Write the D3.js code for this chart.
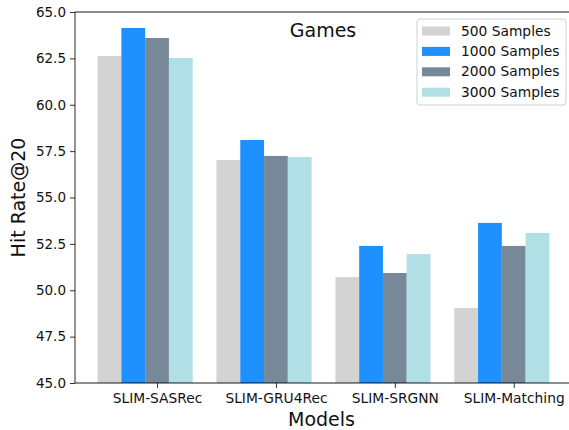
<!DOCTYPE html>
<html lang="en">

<head>
    <meta charset="UTF-8">
    <title>Games - Hit Rate@20</title>
    <script src="https://d3js.org/d3.v7.min.js"></script>
    <style>
        body {
            margin: 0;
            background: #ffffff;
        }

        svg text {
            font-family: "DejaVu Sans", sans-serif;
            fill: #111;
        }
    </style>
</head>

<body>
    <svg width="569" height="430"></svg>

    <script>
        // chart data
        const models = ["SLIM-SASRec", "SLIM-GRU4Rec", "SLIM-SRGNN", "SLIM-Matching"];
        const seriesNames = ["500 Samples", "1000 Samples", "2000 Samples", "3000 Samples"];
        const samples500 = [62.63, 57.02, 50.71, 49.04];
        const samples1000 = [64.14, 58.10, 52.39, 53.63];
        const samples2000 = [63.60, 57.24, 50.93, 52.39];
        const samples3000 = [62.52, 57.18, 51.95, 53.09];
        const yTicks = [45.0, 47.5, 50.0, 52.5, 55.0, 57.5, 60.0, 62.5, 65.0];

        const colors = ["#d3d3d3", "#1e90ff", "#778899", "#b0e0e6"];
        const allSeries = [samples500, samples1000, samples2000, samples3000];

        let svg = d3.select("svg");

        const plotL = 75, plotR = 572, plotT = 12, plotB = 383;
        const barW = 0.2;

        // group index on x, tick sits on the 3rd bar of each group
        let x = d3.scaleLinear().domain([-0.69, 3.49]).range([plotL, plotR]);
        let y = d3.scaleLinear().domain([45, 65]).range([plotB, plotT]);

        // bars
        allSeries.forEach(function (vals, i) {
            svg.append("g")
                .selectAll("rect")
                .data(vals)
                .enter()
                .append("rect")
                .attr("x", function (d, j) { return x(j + (i - 2.5) * barW); })
                .attr("width", function (d, j) { return x(j + (i - 1.5) * barW) - x(j + (i - 2.5) * barW); })
                .attr("y", function (d) { return y(d); })
                .attr("height", function (d) { return y(45) - y(d); })
                .attr("fill", colors[i]);
        });

        // y axis
        let yAxis = svg.append("g")
            .attr("transform", "translate(" + plotL + ",0)")
            .call(d3.axisLeft(y).tickValues(yTicks).tickFormat(d3.format(".1f")).tickSize(5).tickPadding(4));
        yAxis.select(".domain").remove();
        yAxis.selectAll("text").style("font-size", "13.5px").attr("fill", "#111");
        yAxis.selectAll(".tick line").attr("stroke", "#333");

        // x axis
        let xAxis = svg.append("g")
            .attr("transform", "translate(0," + plotB + ")")
            .call(d3.axisBottom(x).tickValues(d3.range(models.length))
                .tickFormat(function (d) { return models[d]; }).tickSize(5).tickPadding(5));
        xAxis.select(".domain").remove();
        xAxis.selectAll("text").style("font-size", "13.8px").attr("fill", "#111");
        xAxis.selectAll(".tick line").attr("stroke", "#333");

        // spines
        const spines = [[plotL, plotT, plotL, plotB], [plotL, plotB, plotR, plotB],
                        [plotL, plotT, plotR, plotT], [plotR, plotT, plotR, plotB]];
        svg.append("g").selectAll("line")
            .data(spines)
            .enter()
            .append("line")
            .attr("x1", function (d) { return d[0]; })
            .attr("y1", function (d) { return d[1]; })
            .attr("x2", function (d) { return d[2]; })
            .attr("y2", function (d) { return d[3]; })
            .attr("stroke", "#000")
            .attr("stroke-opacity", 0.6)
            .attr("stroke-width", 1.4);

        // title + axis labels
        svg.append("text")
            .attr("x", 323).attr("y", 37)
            .attr("text-anchor", "middle")
            .style("font-size", "19px")
            .text("Games");

        svg.append("text")
            .attr("x", (plotL + plotR) / 2 - 2).attr("y", 426)
            .attr("text-anchor", "middle")
            .style("font-size", "19px")
            .text("Models");

        svg.append("text")
            .attr("transform", "translate(25," + ((plotT + plotB) / 2) + ") rotate(-90)")
            .attr("text-anchor", "middle")
            .style("font-size", "19px")
            .text("Hit Rate@20");

        // legend
        let legend = svg.append("g").attr("transform", "translate(417,19)");
        legend.append("rect")
            .attr("width", 149).attr("height", 86)
            .attr("rx", 3)
            .attr("fill", "#fff").attr("fill-opacity", 0.8)
            .attr("stroke", "#d0d0d0");

        let rows = legend.selectAll(".row")
            .data(seriesNames)
            .enter()
            .append("g")
            .attr("class", "row")
            .attr("transform", function (d, i) { return "translate(0," + (11.5 + i * 20.4) + ")"; });
        rows.append("rect")
            .attr("x", 5).attr("y", -4).attr("width", 28).attr("height", 9)
            .attr("fill", function (d, i) { return colors[i]; });
        rows.append("text")
            .attr("x", 44).attr("y", 5)
            .style("font-size", "13.8px")
            .text(function (d) { return d; });
    </script>
</body>

</html>
